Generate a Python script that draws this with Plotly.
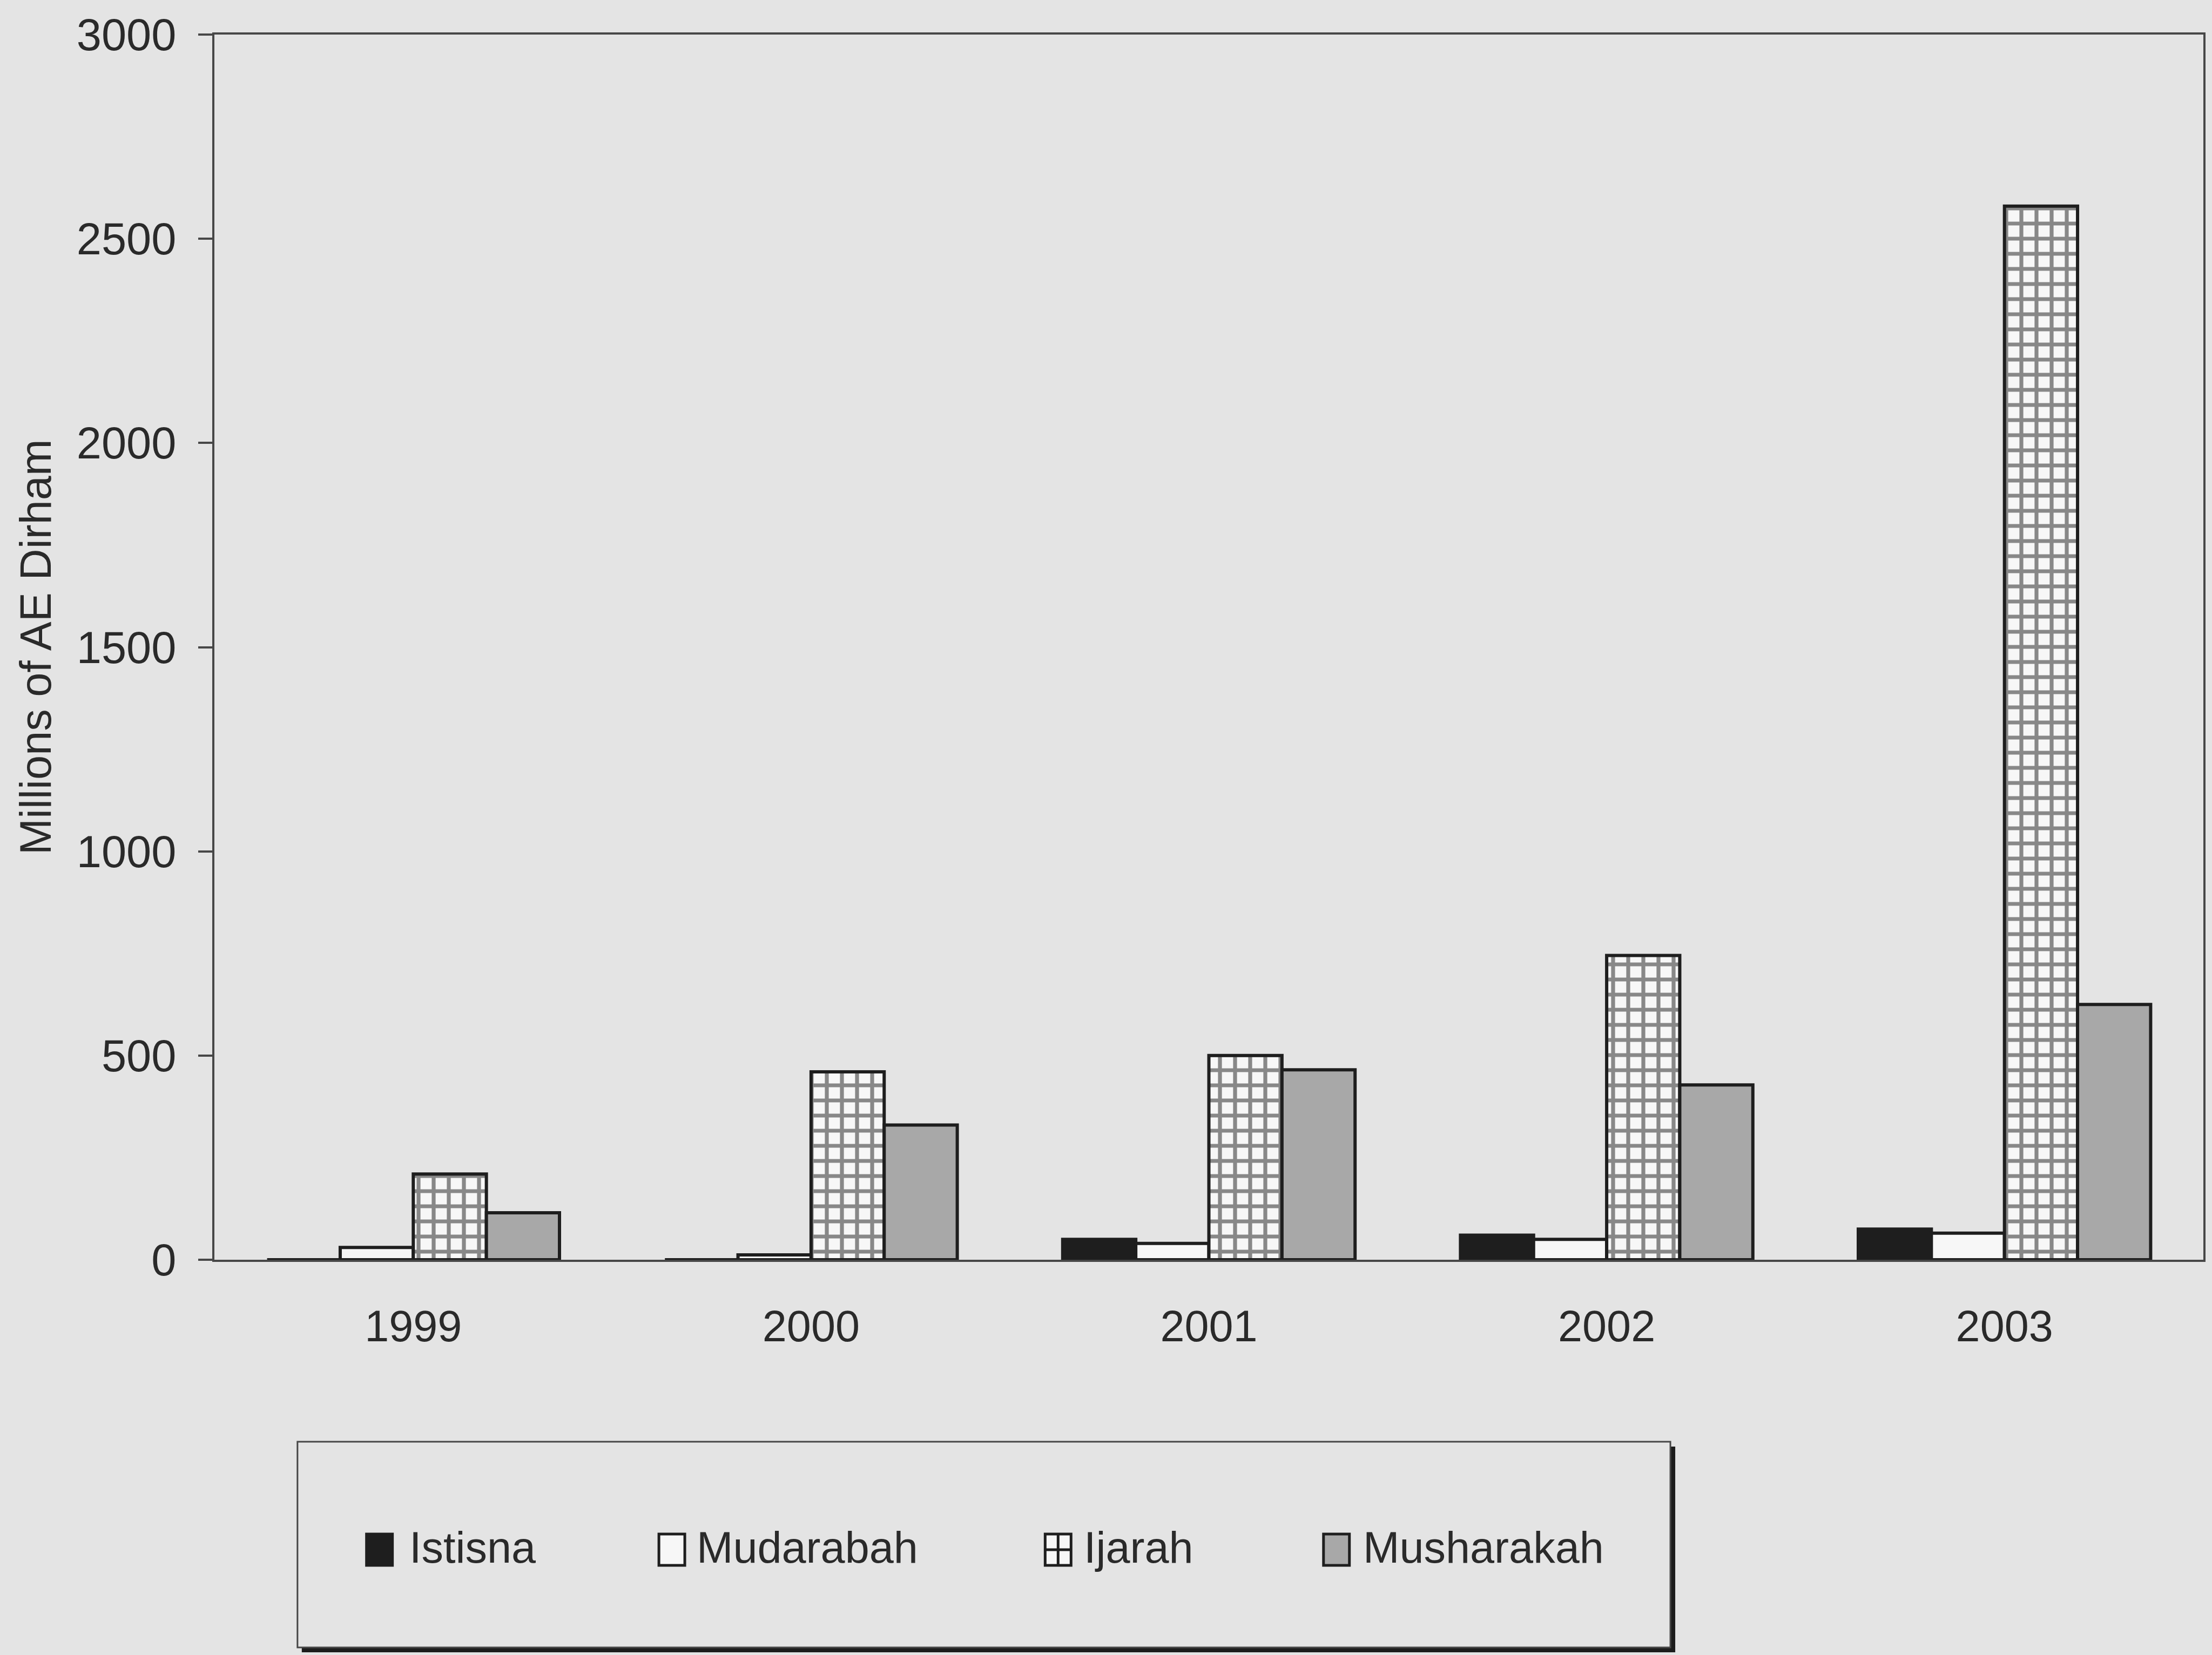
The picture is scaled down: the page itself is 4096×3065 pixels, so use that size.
import plotly.graph_objects as go

# Islamic financing contracts by year (millions of AE Dirham)
years = ["1999", "2000", "2001", "2002", "2003"]
istisna = [0, 0, 50, 60, 75]
mudarabah = [30, 12, 40, 50, 65]
ijarah = [210, 460, 500, 745, 2580]
musharakah = [115, 330, 465, 428, 625]
y_ticks = [0, 500, 1000, 1500, 2000, 2500, 3000]
series_names = ["Istisna", "Mudarabah", "Ijarah", "Musharakah"]

BG = "#e4e4e4"
INK = "#1e1e1e"
AXIS = "#474747"
TEXT = "#2a2a2a"
WHITE = "#f7f7f7"
GREY = "#a8a8a8"
FONT = "Liberation Sans, Arial, Helvetica, sans-serif"

W_PX, H_PX = 4096, 3065
L, R, T, B = 397, 4084, 64, 2333   # plot-area edges in pixels
PW, PH = R - L, B - T


def px(x):
    return (x - L) / PW


def py(y):
    return (B - y) / PH


line = dict(color=INK, width=6)
fig = go.Figure()
fig.add_bar(x=years, y=istisna, name=series_names[0],
            marker=dict(color=INK, line=line))
fig.add_bar(x=years, y=mudarabah, name=series_names[1],
            marker=dict(color=WHITE, line=line))
fig.add_bar(x=years, y=ijarah, name=series_names[2],
            marker=dict(color=WHITE, line=line,
                        pattern=dict(shape="+", fgcolor="#1a1a1a", bgcolor=WHITE,
                                     size=28, solidity=0.45)))
fig.add_bar(x=years, y=musharakah, name=series_names[3],
            marker=dict(color=GREY, line=line))

fig.update_layout(
    width=W_PX, height=H_PX, autosize=False,
    margin=dict(l=L, r=W_PX - R, t=T, b=H_PX - B, pad=0),
    paper_bgcolor=BG, plot_bgcolor=BG,
    font=dict(family=FONT, size=82, color=TEXT),
    barmode="group", bargap=0.265, bargroupgap=0,
    showlegend=False,
)
fig.update_xaxes(
    showline=True, linecolor=AXIS, linewidth=4, mirror=True,
    ticks="", showgrid=False, zeroline=False,
    tickfont=dict(size=81, color=TEXT), ticklabelstandoff=50,
)
fig.update_yaxes(
    range=[0, 3000], tickvals=y_ticks,
    showline=True, linecolor=AXIS, linewidth=4, mirror=True,
    ticks="outside", ticklen=26, tickwidth=4, tickcolor=AXIS,
    showgrid=False, zeroline=False,
    tickfont=dict(size=83, color=TEXT), ticklabelstandoff=24,
    title=dict(text="Millions of AE Dirham", font=dict(size=81, color=TEXT), standoff=21),
)

# Legend panel with drop shadow
shapes = [
    dict(type="rect", xref="paper", yref="paper",
         x0=px(559), x1=px(3105), y0=py(2679), y1=py(3060),
         fillcolor="#1c1c1c", line=dict(width=0), layer="above"),
    dict(type="rect", xref="paper", yref="paper",
         x0=px(551), x1=px(3096), y0=py(2670), y1=py(3051),
         fillcolor=BG, line=dict(color=AXIS, width=3), layer="above"),
]
marker_x = [679, 1221, 1937, 2453]
text_x = [756, 1289, 2007, 2524]
fills = [INK, WHITE, WHITE, GREY]
mw, my0, my1 = 48, 2841, 2899
for i, name in enumerate(series_names):
    x0, x1 = marker_x[i], marker_x[i] + mw
    shapes.append(dict(type="rect", xref="paper", yref="paper",
                       x0=px(x0), x1=px(x1), y0=py(my0), y1=py(my1),
                       fillcolor=fills[i], line=dict(color=INK, width=5), layer="above"))
    if name == "Ijarah":
        xc, yc = (x0 + x1) / 2, (my0 + my1) / 2
        shapes.append(dict(type="line", xref="paper", yref="paper",
                           x0=px(xc), x1=px(xc), y0=py(my0), y1=py(my1),
                           line=dict(color=INK, width=5), layer="above"))
        shapes.append(dict(type="line", xref="paper", yref="paper",
                           x0=px(x0), x1=px(x1), y0=py(yc), y1=py(yc),
                           line=dict(color=INK, width=5), layer="above"))
    fig.add_annotation(xref="paper", yref="paper", x=px(text_x[i]), y=py(2866),
                       xanchor="left", yanchor="middle", showarrow=False,
                       text=name, font=dict(size=81, color=TEXT))
fig.update_layout(shapes=shapes)

fig.write_html("out.html")
